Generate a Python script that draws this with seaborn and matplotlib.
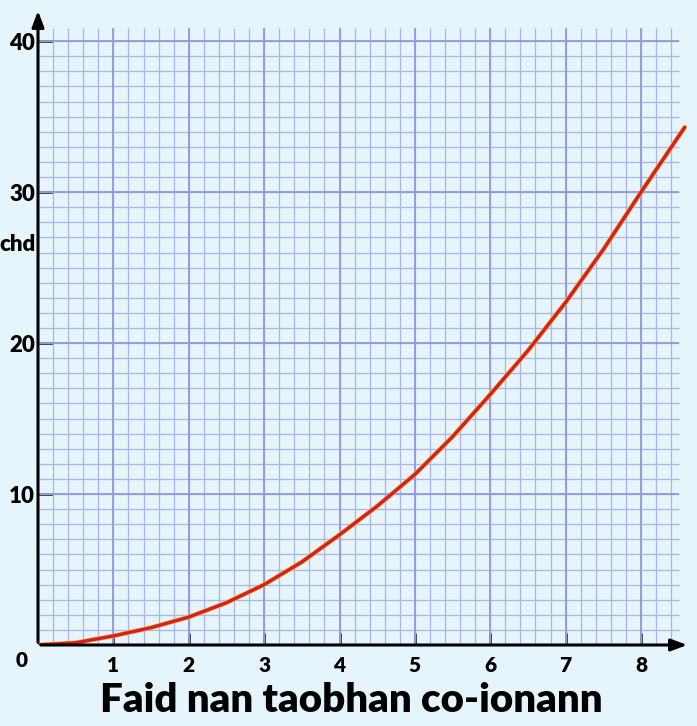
import numpy as np
import pandas as pd
import matplotlib
matplotlib.use("Agg")
import matplotlib.pyplot as plt
import seaborn as sns

# Data
side = [0, 0.5, 1, 1.5, 2, 2.5, 3, 3.5, 4, 4.5, 5, 5.5, 6, 6.5, 7, 7.5, 8, 8.58]
area = [0, 0.15, 0.6, 1.15, 1.85, 2.8, 4.0, 5.5, 7.3, 9.2, 11.3, 13.8, 16.6, 19.5, 22.7, 26.2, 30.0, 34.3]
x_ticks = [1, 2, 3, 4, 5, 6, 7, 8]
y_ticks = [10, 20, 30, 40]
x_label = "Faid nan taobhan co-ionann"
y_label = "chd"

df = pd.DataFrame({"side": side, "area": area})

sns.set_theme(style="white")
plt.rcParams["font.family"] = ["Lato", "DejaVu Sans"]
plt.rcParams["text.color"] = "black"
plt.rcParams["xtick.color"] = "black"
plt.rcParams["ytick.color"] = "black"

bg = "#e6f5fb"
fig = plt.figure(figsize=(6.97, 7.26), dpi=100, facecolor=bg)
ax = fig.add_axes([38/697, 81/726, 652/697, 637/726])
ax.set_facecolor(bg)

XMAX, YMAX = 8.65, 42.2
GX, GY = 8.5, 40.9
ax.set_xlim(0, XMAX)
ax.set_ylim(0, YMAX)

# graph-paper grid
minor_x = np.arange(0, GX + 1e-6, 0.2)
minor_y = np.arange(0, GY, 1)
ax.vlines(minor_x, 0, GY, color="#aeb2ea", lw=0.9, zorder=1)
ax.hlines(minor_y, 0, GX, color="#aeb2ea", lw=0.9, zorder=1)
ax.vlines(np.arange(0, GX + 1e-6, 1), 0, GY, color="#9597e0", lw=1.3, zorder=1)
ax.hlines(np.arange(0, GY, 10), 0, GX, color="#9597e0", lw=1.3, zorder=1)

# curve
sns.lineplot(data=df, x="side", y="area", ax=ax, color="#f4b040", lw=3.4, zorder=3)
sns.lineplot(data=df, x="side", y="area", ax=ax, color="#d42020", lw=2.4, zorder=4)

# axes with arrows
for s in ["top", "right", "left", "bottom"]:
    ax.spines[s].set_visible(False)
ax.annotate("", xy=(XMAX, 0), xytext=(0, 0),
            arrowprops=dict(arrowstyle="-|>,head_length=0.8,head_width=0.3", color="black", lw=2.2),
            annotation_clip=False, zorder=5)
ax.annotate("", xy=(0, YMAX), xytext=(0, 0),
            arrowprops=dict(arrowstyle="-|>,head_length=0.8,head_width=0.3", color="black", lw=2.2),
            annotation_clip=False, zorder=5)

ax.set_xticks(x_ticks)
ax.set_yticks(y_ticks)
ax.tick_params(axis="x", direction="in", length=9, width=1.8, color="black", pad=8,
               labelsize=15, bottom=True)
ax.tick_params(axis="y", direction="in", length=11, width=1.8, color="black", pad=2,
               labelsize=16, left=True)
for lab in ax.get_xticklabels() + ax.get_yticklabels():
    lab.set_fontweight("heavy")
ax.set_xlabel("")
ax.set_ylabel("")

ax.text(-0.22, -1.0, "0", ha="center", va="center", fontsize=15, fontweight="heavy")
ax.text(-0.03, 26.5, y_label, ha="right", va="center", fontsize=16, fontweight="heavy")
fig.text(351/697, 1 - 700/726, x_label, ha="center", va="center", fontsize=29, fontweight="heavy")

fig.savefig("out.png", dpi=100, facecolor=bg)
